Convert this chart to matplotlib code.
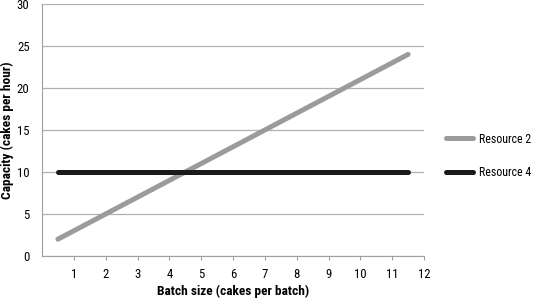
import matplotlib
matplotlib.use("Agg")
import matplotlib.pyplot as plt
from matplotlib import font_manager

batch_sizes = [1, 2, 3, 4, 5, 6, 7, 8, 9, 10, 11, 12]
resource2 = [2, 4, 6, 8, 10, 12, 14, 16, 18, 20, 22, 24]
resource4 = [10, 10, 10, 10, 10, 10, 10, 10, 10, 10, 10, 10]
y_ticks = [0, 5, 10, 15, 20, 25, 30]

names = {f.name for f in font_manager.fontManager.ttflist}
fam = 'Liberation Sans'
for cand in ['Roboto Condensed', 'Liberation Sans Narrow', 'Archivo Narrow', 'Asap Condensed']:
    if cand in names:
        fam = cand
        break
plt.rcParams['font.family'] = [fam, 'DejaVu Sans']
scale = 1.0 if fam != 'Liberation Sans' else 0.88
fs_tick = 9.2 * scale
fs_label = 9.6 * scale
fs_leg = 8.6 * scale

fig = plt.figure(figsize=(5.35, 2.98), dpi=100)
ax = fig.add_axes([42/535, 1-256/298, (424-42)/535, (256-4)/298])

xpos = [b - 0.5 for b in batch_sizes]
ax.plot(xpos, resource2, color='#9b9b9b', lw=3.6, solid_capstyle='round', label='Resource 2', zorder=3)
ax.plot(xpos, resource4, color='#1a1a1a', lw=3.6, solid_capstyle='round', label='Resource 4', zorder=3)

ax.set_xlim(0, 12)
ax.set_ylim(0, 30)
ax.set_xticks(batch_sizes)
ax.set_xticklabels([str(b) for b in batch_sizes])
ax.set_yticks(y_ticks)
ax.tick_params(axis='x', length=3, color='#a0a0a0', labelsize=fs_tick, pad=6)
ax.tick_params(axis='y', length=0, labelsize=fs_tick, pad=9)
ax.grid(axis='y', color='#b0b0b0', lw=0.9)
ax.set_axisbelow(True)
for s in ['top', 'right']:
    ax.spines[s].set_visible(False)
ax.spines['left'].set_color('#a0a0a0')
ax.spines['bottom'].set_color('#a0a0a0')

ax.set_xlabel('Batch size (cakes per batch)', fontsize=fs_label, fontweight='bold', labelpad=2)
ax.set_ylabel('Capacity (cakes per hour)', fontsize=fs_label, fontweight='bold', labelpad=2)

ax.legend(loc='center left', bbox_to_anchor=((446-42)/382, 1 - (156-4)/252), frameon=False,
          fontsize=fs_leg, handlelength=2.3, labelspacing=1.75, handletextpad=0.5,
          borderpad=0, borderaxespad=0)

fig.savefig('out.png', dpi=100)
